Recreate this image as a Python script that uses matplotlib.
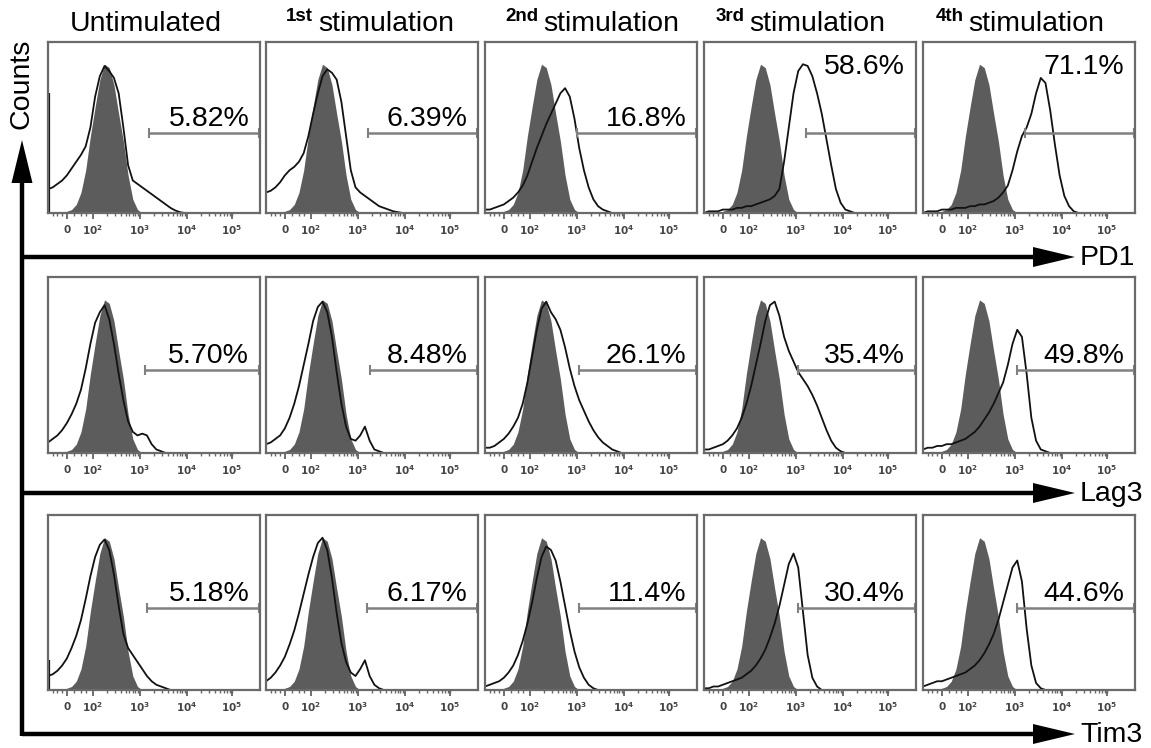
import numpy as np
import matplotlib
matplotlib.use('Agg')
import matplotlib.pyplot as plt
from matplotlib.patches import Polygon

plt.rcParams['font.family'] = ['Liberation Sans', 'DejaVu Sans']

col_sup = ['', '1st', '2nd', '3rd', '4th']
markers = ['PD1', 'Lag3', 'Tim3']
pct = [['5.82%', '6.39%', '16.8%', '58.6%', '71.1%'],
       ['5.70%', '8.48%', '26.1%', '35.4%', '49.8%'],
       ['5.18%', '6.17%', '11.4%', '30.4%', '44.6%']]

# bin centres in decade units (2 = 10^2, 3 = 10^3 ...)
bins = [1.05, 1.15, 1.25, 1.35, 1.45, 1.55, 1.65, 1.75, 1.85, 1.95,
        2.05, 2.15, 2.25, 2.35, 2.45, 2.55, 2.65, 2.75, 2.85, 2.95,
        3.05, 3.15, 3.25, 3.35, 3.45, 3.55, 3.65, 3.75, 3.85, 3.95,
        4.05, 4.15, 4.25, 4.35, 4.45]

# isotype control (filled grey)
ctrl = [0, 0, 0, 0, 0.01, 0.02, 0.05, 0.12, 0.25, 0.45,
        0.62, 0.78, 0.87, 0.85, 0.75, 0.58, 0.42, 0.22, 0.08, 0.02,
        0, 0, 0, 0, 0, 0, 0, 0, 0, 0, 0, 0, 0, 0, 0]

pd1 = [
    [0.14, 0.15, 0.17, 0.19, 0.22, 0.26, 0.30, 0.34, 0.39, 0.50,
     0.68, 0.80, 0.86, 0.83, 0.79, 0.70, 0.50, 0.28, 0.19, 0.17,
     0.15, 0.13, 0.11, 0.09, 0.07, 0.05, 0.03, 0.015, 0.005, 0, 0, 0, 0, 0, 0],
    [0.12, 0.13, 0.15, 0.18, 0.22, 0.25, 0.27, 0.30, 0.35, 0.45,
     0.58, 0.70, 0.80, 0.84, 0.82, 0.78, 0.65, 0.45, 0.25, 0.15,
     0.12, 0.10, 0.08, 0.06, 0.04, 0.03, 0.02, 0.01, 0.005, 0, 0, 0, 0, 0, 0],
    [0.02, 0.02, 0.03, 0.04, 0.05, 0.07, 0.09, 0.12, 0.16, 0.22,
     0.30, 0.38, 0.45, 0.52, 0.58, 0.64, 0.70, 0.73, 0.68, 0.55,
     0.38, 0.25, 0.15, 0.08, 0.04, 0.02, 0.01, 0, 0, 0, 0, 0, 0, 0, 0],
    [0, 0.01, 0.01, 0.01, 0.02, 0.02, 0.02, 0.03, 0.03, 0.04,
     0.04, 0.05, 0.06, 0.07, 0.08, 0.10, 0.14, 0.30, 0.50, 0.70,
     0.83, 0.87, 0.86, 0.80, 0.70, 0.58, 0.43, 0.28, 0.14, 0.06,
     0.02, 0.01, 0, 0, 0],
    [0, 0.01, 0.01, 0.01, 0.02, 0.02, 0.02, 0.03, 0.03, 0.03,
     0.04, 0.04, 0.05, 0.05, 0.06, 0.07, 0.09, 0.12, 0.16, 0.25,
     0.36, 0.45, 0.50, 0.58, 0.70, 0.79, 0.76, 0.60, 0.40, 0.22,
     0.10, 0.04, 0.01, 0, 0],
]
lag3 = [
    [0.06, 0.08, 0.10, 0.13, 0.17, 0.22, 0.28, 0.36, 0.48, 0.62,
     0.74, 0.80, 0.84, 0.76, 0.62, 0.45, 0.30, 0.18, 0.12, 0.10,
     0.11, 0.10, 0.05, 0.02, 0.01, 0, 0, 0, 0, 0, 0, 0, 0, 0, 0],
    [0.05, 0.06, 0.08, 0.10, 0.14, 0.20, 0.28, 0.38, 0.50, 0.62,
     0.75, 0.83, 0.86, 0.80, 0.66, 0.46, 0.28, 0.15, 0.08, 0.07,
     0.10, 0.15, 0.07, 0.02, 0.01, 0, 0, 0, 0, 0, 0, 0, 0, 0, 0],
    [0.03, 0.03, 0.04, 0.06, 0.08, 0.11, 0.15, 0.20, 0.28, 0.40,
     0.55, 0.70, 0.82, 0.86, 0.80, 0.76, 0.70, 0.60, 0.48, 0.38,
     0.30, 0.24, 0.18, 0.13, 0.09, 0.06, 0.04, 0.02, 0.01, 0, 0, 0, 0, 0, 0],
    [0.02, 0.02, 0.03, 0.04, 0.05, 0.07, 0.10, 0.14, 0.20, 0.28,
     0.38, 0.50, 0.62, 0.75, 0.84, 0.86, 0.78, 0.66, 0.58, 0.52,
     0.46, 0.42, 0.38, 0.33, 0.27, 0.20, 0.13, 0.07, 0.03, 0.01, 0, 0, 0, 0, 0],
    [0.02, 0.03, 0.03, 0.04, 0.04, 0.05, 0.05, 0.06, 0.07, 0.08,
     0.10, 0.12, 0.15, 0.19, 0.23, 0.28, 0.34, 0.40, 0.50, 0.62,
     0.70, 0.66, 0.45, 0.20, 0.07, 0.02, 0.01, 0, 0, 0, 0, 0, 0, 0, 0],
]
tim3 = [
    [0.08, 0.09, 0.11, 0.14, 0.18, 0.24, 0.31, 0.40, 0.52, 0.65,
     0.76, 0.83, 0.86, 0.80, 0.66, 0.48, 0.32, 0.24, 0.20, 0.16,
     0.12, 0.08, 0.05, 0.03, 0.02, 0.01, 0, 0, 0, 0, 0, 0, 0, 0, 0],
    [0.05, 0.07, 0.10, 0.14, 0.19, 0.26, 0.34, 0.44, 0.55, 0.66,
     0.76, 0.84, 0.87, 0.80, 0.64, 0.44, 0.27, 0.16, 0.10, 0.08,
     0.12, 0.17, 0.08, 0.03, 0.01, 0, 0, 0, 0, 0, 0, 0, 0, 0, 0],
    [0.02, 0.03, 0.04, 0.05, 0.07, 0.10, 0.14, 0.20, 0.28, 0.38,
     0.50, 0.64, 0.76, 0.82, 0.80, 0.74, 0.62, 0.48, 0.34, 0.22,
     0.13, 0.07, 0.03, 0.01, 0, 0, 0, 0, 0, 0, 0, 0, 0, 0, 0],
    [0.01, 0.01, 0.02, 0.02, 0.03, 0.04, 0.05, 0.06, 0.07, 0.09,
     0.11, 0.14, 0.18, 0.23, 0.30, 0.38, 0.48, 0.60, 0.72, 0.78,
     0.70, 0.45, 0.20, 0.07, 0.02, 0, 0, 0, 0, 0, 0, 0, 0, 0, 0],
    [0.02, 0.03, 0.04, 0.05, 0.05, 0.06, 0.07, 0.08, 0.09, 0.10,
     0.12, 0.14, 0.17, 0.21, 0.26, 0.32, 0.40, 0.50, 0.60, 0.70,
     0.74, 0.62, 0.35, 0.14, 0.04, 0.01, 0, 0, 0, 0, 0, 0, 0, 0, 0],
]
outlines = [pd1, lag3, tim3]

# events piled up in the lowest channel
edge = [[0.70, 0, 0, 0, 0], [0, 0, 0, 0, 0], [0.17, 0, 0, 0, 0]]

gate_x = [[3.20, 3.21, 3.00, 3.22, 3.22],
          [3.10, 3.25, 3.05, 3.05, 3.05],
          [3.15, 3.20, 3.05, 3.05, 3.05]]
gate_y = [[0.47] * 5, [0.47] * 5, [0.47] * 5]
label_top = [[False, False, False, True, True], [False] * 5, [False] * 5]

W, H = 1151, 748
fig = plt.figure(figsize=(W / 100, H / 100), dpi=100)

col_left = [48, 266, 485, 704, 923]
row_top = [42, 277, 515]
row_h = [171, 176, 175]
pw = 212
title_x = [None, 0.245, 0.275, 0.215, 0.215]

xmin, xmax = 1.05, 5.55
major = [1.46, 2.0, 3.0, 4.0, 4.95]
major_lbl = [r'$\mathbf{0}$', r'$\mathbf{10^2}$', r'$\mathbf{10^3}$',
             r'$\mathbf{10^4}$', r'$\mathbf{10^5}$']
minor = [1.15, 1.25, 1.35, 1.6, 1.75, 1.85]
for d in [2, 3, 4]:
    minor += list(d + np.log10(np.arange(2, 10)))

for r in range(3):
    for c in range(5):
        ax = fig.add_axes([col_left[c] / W, 1 - (row_top[r] + row_h[r]) / H,
                           pw / W, row_h[r] / H])
        ax.fill_between(bins, ctrl, color='#5c5c5c', lw=0)
        ax.plot(bins, outlines[r][c], color='#111111', lw=1.3)
        if edge[r][c] > 0:
            ax.vlines(1.07, 0, edge[r][c], color='#111111', lw=1.6)
        gx, gy = gate_x[r][c], gate_y[r][c]
        ax.plot([gx, xmax - 0.02], [gy, gy], color='#808080', lw=1.8,
                marker='|', markersize=7, mew=1.5)
        if label_top[r][c]:
            ax.text(5.32, 0.81, pct[r][c], ha='right', va='baseline', fontsize=20.5)
        else:
            ax.text(5.32, gy + 0.04, pct[r][c], ha='right', va='baseline', fontsize=20.5)
        ax.set_xlim(xmin, xmax)
        ax.set_ylim(0, 1)
        ax.set_yticks([])
        ax.set_xticks(major)
        ax.set_xticklabels(major_lbl)
        ax.set_xticks(minor, minor=True)
        ax.tick_params(axis='x', which='major', length=4, width=1.2, color='#555555',
                       labelsize=7.5, labelcolor='#444444', pad=3.5)
        ax.tick_params(axis='x', which='minor', length=2.5, width=1, color='#666666')
        for s in ax.spines.values():
            s.set_color('#6a6a6a')
            s.set_linewidth(1.6)
        if r == 0:
            if c == 0:
                ax.text(0.46, 1 + 11 / row_h[r], 'Untimulated', transform=ax.transAxes,
                        ha='center', va='baseline', fontsize=20.5)
            else:
                ax.text(title_x[c], 1 + 11 / row_h[r], 'stimulation', transform=ax.transAxes,
                        ha='left', va='baseline', fontsize=20.5)
                ax.text(title_x[c] - 0.025, 1 + 21 / row_h[r], col_sup[c], transform=ax.transAxes,
                        ha='right', va='baseline', fontsize=13.5, fontweight='bold')

# overlay for the axis arrows
ov = fig.add_axes([0, 0, 1, 1])
ov.set_xlim(0, W)
ov.set_ylim(H, 0)
ov.axis('off')
ov.patch.set_alpha(0)

tip_x = 1075
arrow_y = [257, 493, 734]
for y, name in zip(arrow_y, markers):
    ov.plot([22, tip_x - 30], [y, y], color='black', lw=3.2, solid_capstyle='butt')
    ov.add_patch(Polygon([[tip_x, y], [tip_x - 42, y - 10], [tip_x - 42, y + 10]],
                         closed=True, color='black', lw=0))
    ov.text(tip_x + 5, y + 8, name, ha='left', va='baseline', fontsize=20.5)

ov.plot([22, 22], [736, 170], color='black', lw=3.2, solid_capstyle='butt')
ov.add_patch(Polygon([[22, 140], [11.5, 183], [32.5, 183]], closed=True, color='black', lw=0))
ov.text(22, 84, 'Counts', rotation=90, ha='center', va='center', fontsize=20.5)

fig.savefig('out.png', dpi=100)
